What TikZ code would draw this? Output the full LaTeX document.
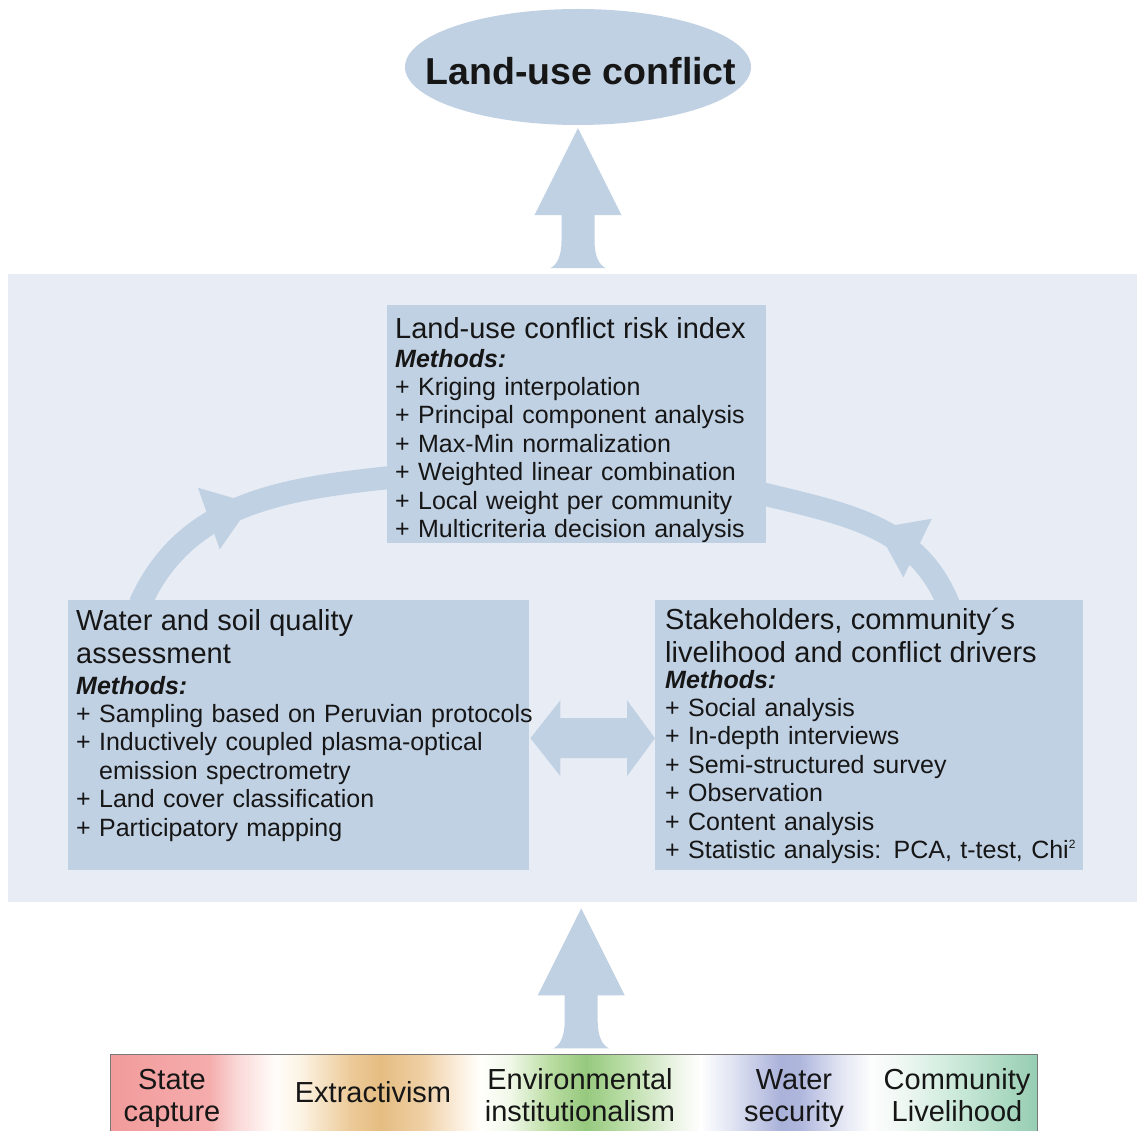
\documentclass[tikz,border=0pt]{standalone}
\usepackage{fontspec}
\setmainfont{Liberation Sans}
\usetikzlibrary{arrows.meta,decorations.markings,calc,shapes.geometric}
\definecolor{boxblue}{RGB}{193,209,228}
\definecolor{panelblue}{RGB}{232,237,245}
\definecolor{txtc}{RGB}{22,22,22}
\definecolor{cRed}{RGB}{242,155,155}
\definecolor{cRedb}{RGB}{245,172,172}
\definecolor{cRedc}{RGB}{250,215,215}
\definecolor{cWa}{RGB}{255,253,250}
\definecolor{cOra}{RGB}{252,243,228}
\definecolor{cOrb}{RGB}{236,202,152}
\definecolor{cOrc}{RGB}{229,189,130}
\definecolor{cOrd}{RGB}{238,206,162}
\definecolor{cOre}{RGB}{252,240,225}
\definecolor{cWb}{RGB}{255,255,252}
\definecolor{cGra}{RGB}{240,248,232}
\definecolor{cGrb}{RGB}{186,221,162}
\definecolor{cGrc}{RGB}{150,201,126}
\definecolor{cGrd}{RGB}{182,219,162}
\definecolor{cGre}{RGB}{240,246,235}
\definecolor{cWc}{RGB}{255,255,255}
\definecolor{cBla}{RGB}{226,229,243}
\definecolor{cBlb}{RGB}{170,178,218}
\definecolor{cBlc}{RGB}{176,183,221}
\definecolor{cBld}{RGB}{226,229,243}
\definecolor{cWd}{RGB}{253,253,253}
\definecolor{cTea}{RGB}{240,248,244}
\definecolor{cTeb}{RGB}{200,232,215}
\definecolor{cTec}{RGB}{150,205,178}
\pgfdeclarehorizontalshading{driverbar}{100bp}{color(0bp)=(cRed); color(25bp)=(cRed); color(30.3bp)=(cRedb); color(31.8bp)=(cRedc); color(33.9bp)=(cWa); color(35.25bp)=(cOra); color(37.94bp)=(cOrb); color(39.56bp)=(cOrc); color(41.72bp)=(cOrd); color(43.88bp)=(cOre); color(44.96bp)=(cWb); color(46.57bp)=(cGra); color(48.73bp)=(cGrb); color(50.62bp)=(cGrc); color(52.5bp)=(cGrd); color(55.74bp)=(cGre); color(56.82bp)=(cWc); color(58.44bp)=(cBla); color(61.14bp)=(cBlb); color(62.2bp)=(cBlc); color(64.37bp)=(cBld); color(66bp)=(cWd); color(67.6bp)=(cTea); color(70.84bp)=(cTeb); color(75bp)=(cTec); color(100bp)=(cTec)}
\newcommand\itemfont{\fontsize{25}{28.4}\selectfont}
\newcommand\titlefont{\fontsize{29}{33}\selectfont}
\newcommand\barfont{\fontsize{29}{32}\selectfont}
\begin{document}
\begin{tikzpicture}[x=1pt,y=1pt,
  box/.style={fill=boxblue, inner sep=0pt, anchor=north west},
  mtext/.style={text=txtc, inner sep=0pt, anchor=north west, text width=490pt, align=left, font=\itemfont},
  bartext/.style={text=txtc, inner sep=0pt, align=center, font=\barfont},
  band/.style={draw=boxblue, line width=23pt, postaction={decorate},
    decoration={markings, mark=at position #1 with {\arrow[boxblue]{Triangle[width=62pt,length=46pt]}}}},
  fatup/.pic={\fill[boxblue] (0,0) -- (43.5,-87) -- (16.5,-87) -- (16.5,-112)
     .. controls (16.5,-128) and (21,-137) .. (28,-140) -- (-28,-140)
     .. controls (-21,-137) and (-16.5,-128) .. (-16.5,-112) -- (-16.5,-87) -- (-43.5,-87) -- cycle;}
]
\useasboundingbox (0,0) rectangle (1137,-1131);
\clip (0,0) rectangle (1137,-1131);
\fill[white] (0,0) rectangle (1137,-1131);

% top ellipse
\node[ellipse, fill=boxblue, minimum width=346pt, minimum height=116pt, inner sep=0pt] (luc) at (578,-67) {};
\node[text=txtc, font=\fontsize{37.5}{40}\selectfont\bfseries, text height=36pt, text depth=0pt, inner sep=0pt] (luctxt) at ($(luc.center)+(3,0)$) {Land-use conflict};

% panel
\node[box, fill=panelblue, minimum width=1129pt, minimum height=628pt] (panel) at (8,-274) {};

% upward arrow panel -> ellipse
\coordinate (toptip) at ($(luc.south)+(0,-3)$);
\pic at (toptip) {fatup};

% boxes positions
\coordinate (riskNW) at (387,-305);
\coordinate (wsqNW) at (68,-600);
\coordinate (shdNW) at (655,-600);

\path (riskNW) node[box, fill=none, minimum width=379pt, minimum height=238pt] (risk) {};
\path (wsqNW) node[box, fill=none, minimum width=461pt, minimum height=270pt] (wsq) {};
\path (shdNW) node[box, fill=none, minimum width=428pt, minimum height=270pt] (shd) {};

% curved connectors
\draw[band=0.52] ($(wsq.north west)+(72,-4)$) to[out=66,in=186] ($(risk.west)+(6,-53)$);
\draw[band=0.47] ($(shd.north east)+(-135,-4)$) to[out=112,in=-14] ($(risk.east)+(-6,-69)$);

% filled boxes
\fill[boxblue] (risk.north west) rectangle (risk.south east);
\fill[boxblue] (wsq.north west) rectangle (wsq.south east);
\fill[boxblue] (shd.north east) rectangle (shd.south west);

% texts
\node[mtext] (risktxt) at (395,-305) {\titlefont\rule{0pt}{33pt}Land-use conflict risk index\par\vspace{0.5pt}\itemfont\textbf{\textit{Methods:}}\\+ Kriging interpolation\\+ Principal component analysis\\+ Max-Min normalization\\+ Weighted linear combination\\+ Local weight per community\\+ Multicriteria decision analysis};

\node[mtext] (wsqtxt) at (76,-600) {\titlefont\rule{0pt}{30pt}Water and soil quality\\assessment\par\vspace{2.5pt}\itemfont\textbf{\textit{Methods:}}\\+ Sampling based on Peruvian protocols\\+ Inductively coupled plasma-optical\\\phantom{+ }emission spectrometry\\+ Land cover classification\\+ Participatory mapping};

\node[mtext] (shdtxt) at (665,-600) {\titlefont\rule{0pt}{29pt}Stakeholders, community´s\\livelihood and conflict drivers\par\vspace{-2.5pt}\itemfont\textbf{\textit{Methods:}}\\+ Social analysis\\+ In-depth interviews\\+ Semi-structured survey\\+ Observation\\+ Content analysis\\+ Statistic analysis: PCA, t-test, Chi\raisebox{10pt}{\fontsize{12}{12}\selectfont 2}};

% double arrow between lower boxes
\coordinate (dl) at ($(wsq.east)+(1,-3)$);
\coordinate (dr) at ($(shd.west)+(0,-3)$);
\fill[boxblue] (dl) -- ($(dl)+(30,38)$) -- ($(dl)+(30,20)$) -- ($(dr)+(-28,20)$) -- ($(dr)+(-28,38)$) -- (dr)
  -- ($(dr)+(-28,-38)$) -- ($(dr)+(-28,-20)$) -- ($(dl)+(30,-20)$) -- ($(dl)+(30,-38)$) -- cycle;

% bottom driver bar
\node[box, fill=none, shading=driverbar, draw={rgb,255:red,120;green,120;blue,120}, line width=1.2pt, minimum width=927pt, minimum height=95pt] (bar) at (110,-1054) {};

% upward arrow bar -> panel
\coordinate (bottip) at ($(panel.south)+(8.5,-6)$);
\pic at (bottip) {fatup};

% bar labels
\node[bartext, anchor=north] (sc) at (172,-1064) {\rule{0pt}{25pt}State\\capture};
\node[bartext, anchor=base] (ex) at (373,-1102) {Extractivism};
\node[bartext, anchor=north] (ei) at (580,-1064) {\rule{0pt}{25pt}Environmental\\institutionalism};
\node[bartext, anchor=north] (ws) at (794,-1064) {\rule{0pt}{25pt}Water\\security};
\node[bartext, anchor=north] (cl) at (957,-1064) {\rule{0pt}{25pt}Community\\Livelihood};
\end{tikzpicture}
\end{document}
